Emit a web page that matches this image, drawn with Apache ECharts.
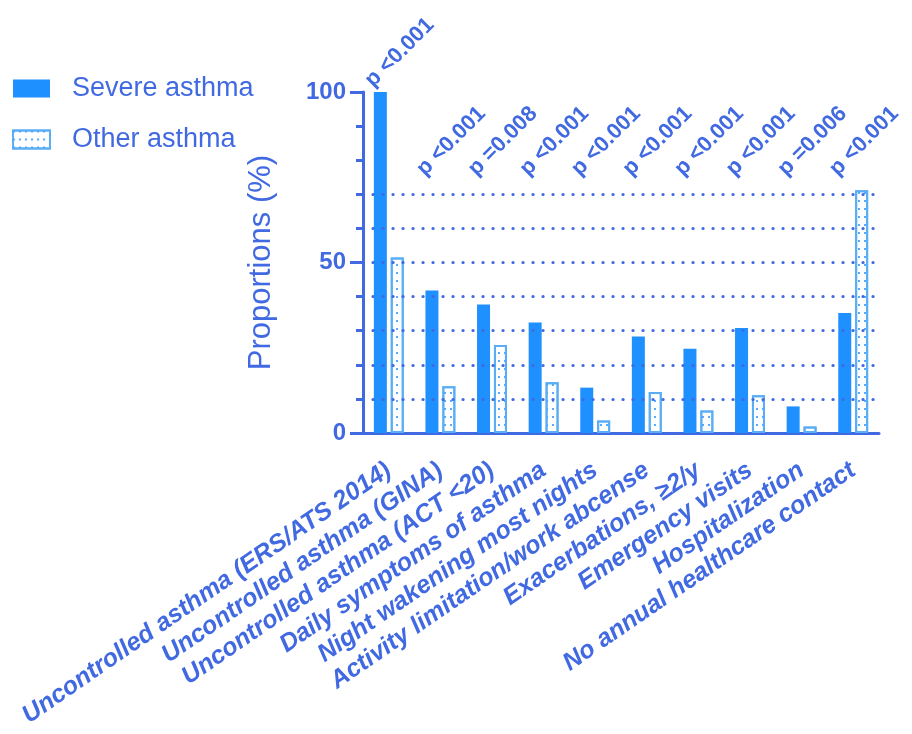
<!DOCTYPE html>
<html>
<head>
<meta charset="utf-8">
<script src="https://cdn.jsdelivr.net/npm/echarts@6/dist/echarts.min.js"></script>
<style>
html,body{margin:0;padding:0;background:#fff;}
#chart{width:912px;height:734px;}
</style>
</head>
<body>
<div id="chart"></div>
<script>
const categories = [
  "Uncontrolled asthma (ERS/ATS 2014)",
  "Uncontrolled asthma (GINA)",
  "Uncontrolled asthma (ACT <20)",
  "Daily symptoms of asthma",
  "Night wakening most nights",
  "Activity limitation/work abcense",
  "Exacerbations, \u22652/y",
  "Emergency visits",
  "Hospitalization",
  "No annual healthcare contact"
];
const severeAsthma = [100, 41.8, 37.7, 32.4, 13.3, 28.3, 24.7, 30.8, 7.8, 35.2];
const otherAsthma  = [51.5, 13.7, 25.8, 14.9, 3.7, 12.0, 6.6, 11.1, 1.9, 71.2];
const pValues = ["p <0.001", "p <0.001", "p =0.008", "p <0.001", "p <0.001", "p <0.001", "p <0.001", "p <0.001", "p =0.006", "p <0.001"];
const pLabelHeights = [102.5, 76.5, 76.5, 76.5, 76.5, 76.5, 76.5, 76.5, 76.5, 76.5];
const gridValues = [10, 20, 30, 40, 50, 60, 70];
const yTicks = [0, 50, 100];

const TXT = '#4169E1';
const BAR = '#1E90FF';
const FONT = '"Liberation Sans", Arial, Helvetica, sans-serif';

const chart = echarts.init(document.getElementById('chart'), null, {renderer: 'canvas'});
chart.setOption({
  animation: false,
  backgroundColor: '#fff',
  textStyle: {fontFamily: FONT},
  legend: {
    data: ['Severe asthma', 'Other asthma'],
    orient: 'vertical',
    left: 7,
    top: 70,
    itemWidth: 37,
    itemHeight: 18,
    itemGap: 24,
    icon: 'rect',
    textStyle: {fontSize: 27, color: TXT, fontFamily: FONT, padding: [0, 0, 0, 17]}
  },
  grid: {left: 363, right: 33, top: 92, bottom: 301, containLabel: false},
  xAxis: {
    type: 'category',
    data: categories,
    axisLine: {lineStyle: {color: TXT, width: 3}},
    axisTick: {alignWithLabel: true, length: 12, lineStyle: {color: TXT, width: 3}},
    axisLabel: {
      interval: 0, rotate: 34.5, margin: 35,
      color: TXT, fontSize: 25, fontWeight: 'bold', fontStyle: 'italic', fontFamily: FONT
    },
    splitLine: {show: false}
  },
  yAxis: {
    type: 'value',
    min: yTicks[0], max: yTicks[yTicks.length - 1], interval: 50,
    name: 'Proportions (%)',
    nameLocation: 'middle',
    nameGap: 86,
    nameRotate: 90,
    nameTextStyle: {fontSize: 31, color: TXT, fontFamily: FONT},
    axisLine: {show: true, lineStyle: {color: TXT, width: 3}},
    axisTick: {show: true, length: 13, lineStyle: {color: TXT, width: 3}},
    minorTick: {show: true, splitNumber: 5, length: 7, lineStyle: {color: TXT, width: 3}},
    axisLabel: {margin: 17, color: TXT, fontSize: 24, fontWeight: 'bold', fontFamily: FONT},
    splitLine: {show: false}
  },
  series: [
    {
      name: 'grid',
      type: 'line',
      data: [],
      z: 1,
      markLine: {
        silent: true,
        symbol: ['none', 'none'],
        label: {show: false},
        lineStyle: {color: TXT, width: 3.2, type: [0.1, 9.9], cap: 'round'},
        data: gridValues.map(v => ({yAxis: v}))
      }
    },
    {
      name: 'Severe asthma',
      type: 'bar',
      data: severeAsthma,
      barWidth: 13,
      barGap: '30%',
      z: 3,
      itemStyle: {color: BAR}
    },
    {
      name: 'Other asthma',
      type: 'bar',
      data: otherAsthma,
      barWidth: 13,
      z: 3,
      itemStyle: {
        color: '#fff',
        borderColor: '#5AAEF5',
        borderWidth: 2,
        decal: {
          symbol: 'circle',
          symbolSize: 1,
          color: BAR,
          backgroundColor: null,
          dashArrayX: [[1.6, 4]],
          dashArrayY: [1.6, 5.5],
          rotation: 0
        }
      }
    },
    {
      name: 'p',
      type: 'custom',
      data: pLabelHeights.map((v, i) => [i, v]),
      clip: false,
      silent: true,
      z: 4,
      renderItem: function (params, api) {
        const pt = api.coord([api.value(0), api.value(1)]);
        return {
          type: 'text',
          x: pt[0] - 20,
          y: pt[1],
          rotation: Math.PI / 4,
          style: {
            text: pValues[params.dataIndex],
            fill: TXT,
            font: 'bold 22px "Liberation Sans", Arial, sans-serif',
            align: 'left',
            verticalAlign: 'middle'
          }
        };
      }
    }
  ]
});
</script>
</body>
</html>
